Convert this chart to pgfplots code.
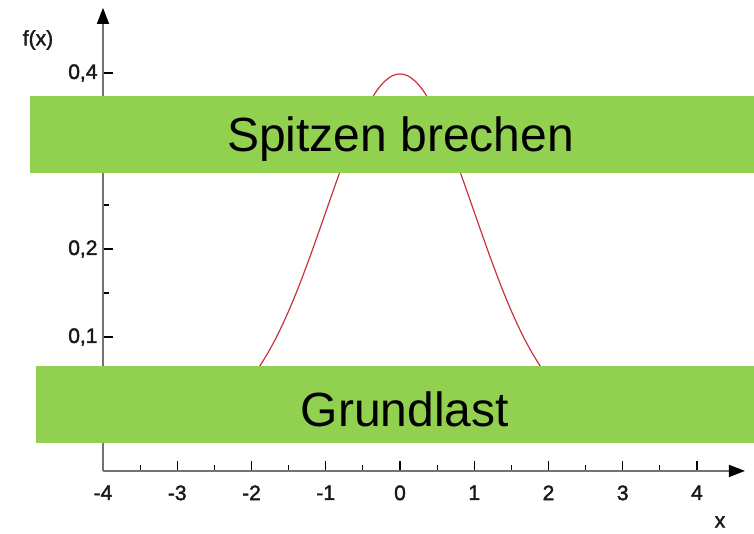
\documentclass[border=0pt]{standalone}
\usepackage{fontspec}
\setmainfont{Liberation Sans}
\newfontfamily\tickfont[FakeBold=1.8]{Liberation Sans}
\usepackage{pgfplots}
\pgfplotsset{compat=1.18}
\usetikzlibrary{arrows.meta}
\definecolor{boxgreen}{RGB}{146,208,80}
\definecolor{curvered}{RGB}{200,50,60}
\begin{document}
\begin{tikzpicture}
\begin{axis}[
  x=74.25pt, y=880pt,
  xmin=-4, xmax=4.646, ymin=-0.0522, ymax=0.474,
  axis lines=left,
  axis line style={black!55, line width=1.6pt},
  x axis line style={-{Triangle[black,length=16pt,width=12pt]}},
  y axis line style={-{Triangle[black,length=16pt,width=12pt]}},
  clip=false,
  xtick={-4,...,4},
  minor xtick={-3.5,-2.5,...,3.5},
  ytick={0,0.1,0.2,0.3,0.4},
  minor ytick={0.05,0.15,0.25,0.35},
  tick align=inside,
  major tick length=10pt, minor tick length=6pt,
  every tick/.style={black, line width=1.2pt},
  /pgf/number format/assume math mode=true,
  /pgf/number format/use comma,
  /pgf/number format/fixed,
  /pgf/number format/precision=1,
  ticklabel style={font=\tickfont\fontsize{21}{25}\selectfont, text=black!90},
  xticklabel style={yshift=-11pt},
  yticklabel style={xshift=-2pt},
]
\addplot[curvered, line width=1.2pt, smooth] coordinates {
(-4.0,0.0001) (-3.5,0.0009) (-3.0,0.0044) (-2.8,0.0079) (-2.6,0.0136) (-2.4,0.0224) (-2.2,0.0355)
(-2.0,0.0540) (-1.9,0.0656) (-1.8,0.0790) (-1.7,0.0940) (-1.6,0.1109) (-1.5,0.1295) (-1.4,0.1497)
(-1.3,0.1714) (-1.2,0.1942) (-1.1,0.2179) (-1.0,0.2420) (-0.9,0.2661) (-0.8,0.2897) (-0.7,0.3123)
(-0.6,0.3332) (-0.5,0.3521) (-0.4,0.3683) (-0.3,0.3814) (-0.2,0.3910) (-0.1,0.3970) (0.0,0.3989)
(0.1,0.3970) (0.2,0.3910) (0.3,0.3814) (0.4,0.3683) (0.5,0.3521) (0.6,0.3332) (0.7,0.3123)
(0.8,0.2897) (0.9,0.2661) (1.0,0.2420) (1.1,0.2179) (1.2,0.1942) (1.3,0.1714) (1.4,0.1497)
(1.5,0.1295) (1.6,0.1109) (1.7,0.0940) (1.8,0.0790) (1.9,0.0656) (2.0,0.0540) (2.2,0.0355)
(2.4,0.0224) (2.6,0.0136) (2.8,0.0079) (3.0,0.0044) (3.5,0.0009) (4.0,0.0001)
};
% pixel -> data: x=(px-400)/74.25, y=(425-py)/880
\coordinate (TL) at (axis cs:-5.3872,0.48295);
\coordinate (BR) at (axis cs:4.7677,-0.12386);
\coordinate (B1a) at (axis cs:-4.9832,0.37386);
\coordinate (B1b) at (axis cs:4.7677,0.28636);
\coordinate (B2a) at (axis cs:-4.9024,0.06705);
\coordinate (B2b) at (axis cs:4.7677,-0.02045);
\coordinate (T1) at (axis cs:0.0067,0.31023);
\coordinate (T2) at (axis cs:0.0673,-0.00227);
\coordinate (FX) at (axis cs:-4.8754,0.4375);
\coordinate (XL) at (axis cs:4.3098,-0.1102);
\end{axis}
\fill[boxgreen] (B1a) rectangle (B1b);
\fill[boxgreen] (B2a) rectangle (B2b);
\node[anchor=base, inner sep=0pt, font=\fontsize{48}{56}\selectfont] at (T1) {Spitzen brechen};
\node[anchor=base, inner sep=0pt, font=\fontsize{48}{56}\selectfont] at (T2) {Grundlast};
\node[inner sep=0pt, font=\tickfont\fontsize{21}{25}\selectfont, text=black!90] at (FX) {f(x)};
\node[inner sep=0pt, font=\tickfont\fontsize{21}{25}\selectfont, text=black!90] at (XL) {x};
\pgfresetboundingbox
\path[use as bounding box] (TL) rectangle (BR);
\end{tikzpicture}
\end{document}
